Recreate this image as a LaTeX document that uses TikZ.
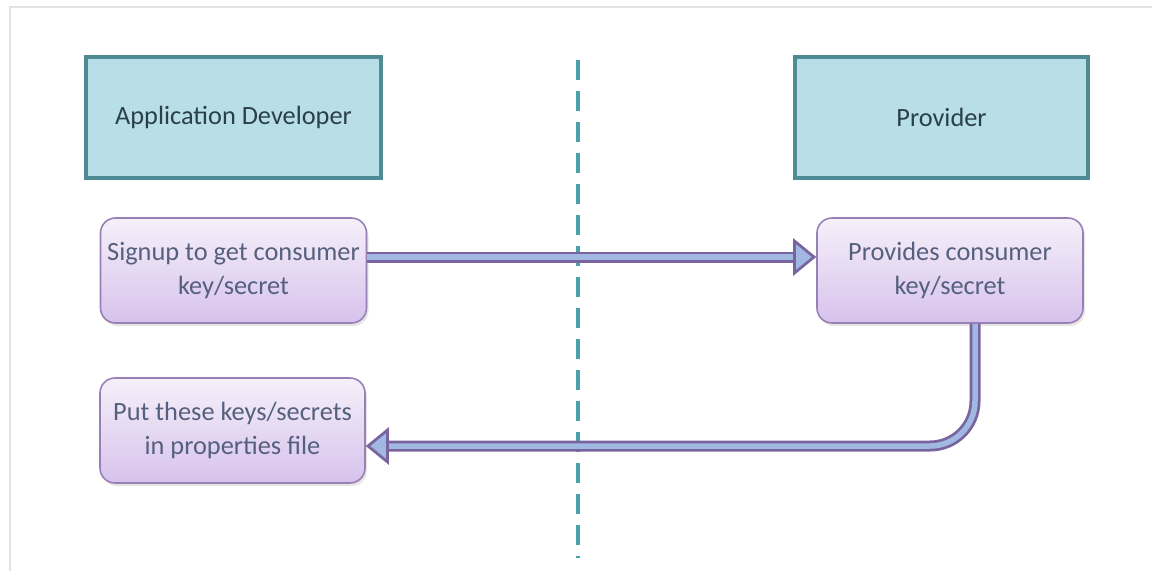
\documentclass[tikz,border=0pt]{standalone}
\usepackage{fontspec}
\setmainfont{Carlito}
\usetikzlibrary{arrows.meta, positioning, shadows}
\definecolor{HeadFill}{HTML}{B8DEE8}
\definecolor{HeadLine}{HTML}{4E8B95}
\definecolor{HeadText}{HTML}{2A4049}
\definecolor{StepTop}{HTML}{F6F0FA}
\definecolor{StepBot}{HTML}{D6C2EC}
\definecolor{StepLine}{HTML}{9880B4}
\definecolor{StepText}{HTML}{55607E}
\definecolor{PipeOut}{HTML}{7A64A0}
\definecolor{PipeIn}{HTML}{A0B8E2}
\definecolor{Divider}{HTML}{4AA3AC}
\definecolor{FrameGray}{HTML}{E2E2E2}

\begin{document}
\begin{tikzpicture}[
    actor/.style={draw=HeadLine, line width=2.6pt, fill=HeadFill, text=HeadText,
        minimum width=5.9cm, minimum height=2.42cm, font=\fontsize{15}{19}\selectfont},
    stepbox/.style={draw=StepLine, line width=0.9pt, rounded corners=0.3cm,
        top color=StepTop, bottom color=StepBot, text=StepText, align=center,
        minimum width=5.32cm, minimum height=2.1cm, font=\fontsize{15}{19.5}\selectfont,
        drop shadow={opacity=0.2, shadow xshift=0.04cm, shadow yshift=-0.06cm}},
    pipe/.style={draw=PipeOut, line width=0.055cm, double=PipeIn, double distance=0.11cm,
        -{Triangle[length=0.46cm, width=0.74cm, fill=PipeIn]}}
]
    % Page area and faint frame
    \useasboundingbox (0,0) rectangle (23.04,-11.42);
    \draw[FrameGray, line width=1.2pt] (0.2,-11.42) -- (0.2,-0.14) -- (23.04,-0.14);

    % Swimlane divider
    \coordinate (divtop) at (11.56,-1.2);
    \coordinate (divbot) at (11.56,-11.16);
    \draw[Divider, line width=2.3pt, dash pattern=on 0.4cm off 0.22cm] (divtop) -- (divbot);

    % Lane headers
    \node[actor] (dev) at (4.67,-2.35) {Application Developer};
    \node[actor, minimum width=5.86cm] (prov) at (18.83,-2.35) {Provider};

    % Steps
    \node[stepbox] (signup) at (4.67,-5.41) {Signup to get consumer\\key/secret};
    \node[stepbox] (provides) at (19.0,-5.41) {Provides consumer\\key/secret};
    \node[stepbox, minimum width=5.3cm] (store) at (4.65,-8.61) {Put these keys/secrets\\in properties file};

    % Flows
    \draw[pipe] ([yshift=0.27cm]signup.east) -- ([yshift=0.27cm]provides.west);
    \draw[pipe, rounded corners=0.9cm] ([xshift=0.5cm]provides.south) |- ([yshift=-0.31cm]store.east);
\end{tikzpicture}
\end{document}
